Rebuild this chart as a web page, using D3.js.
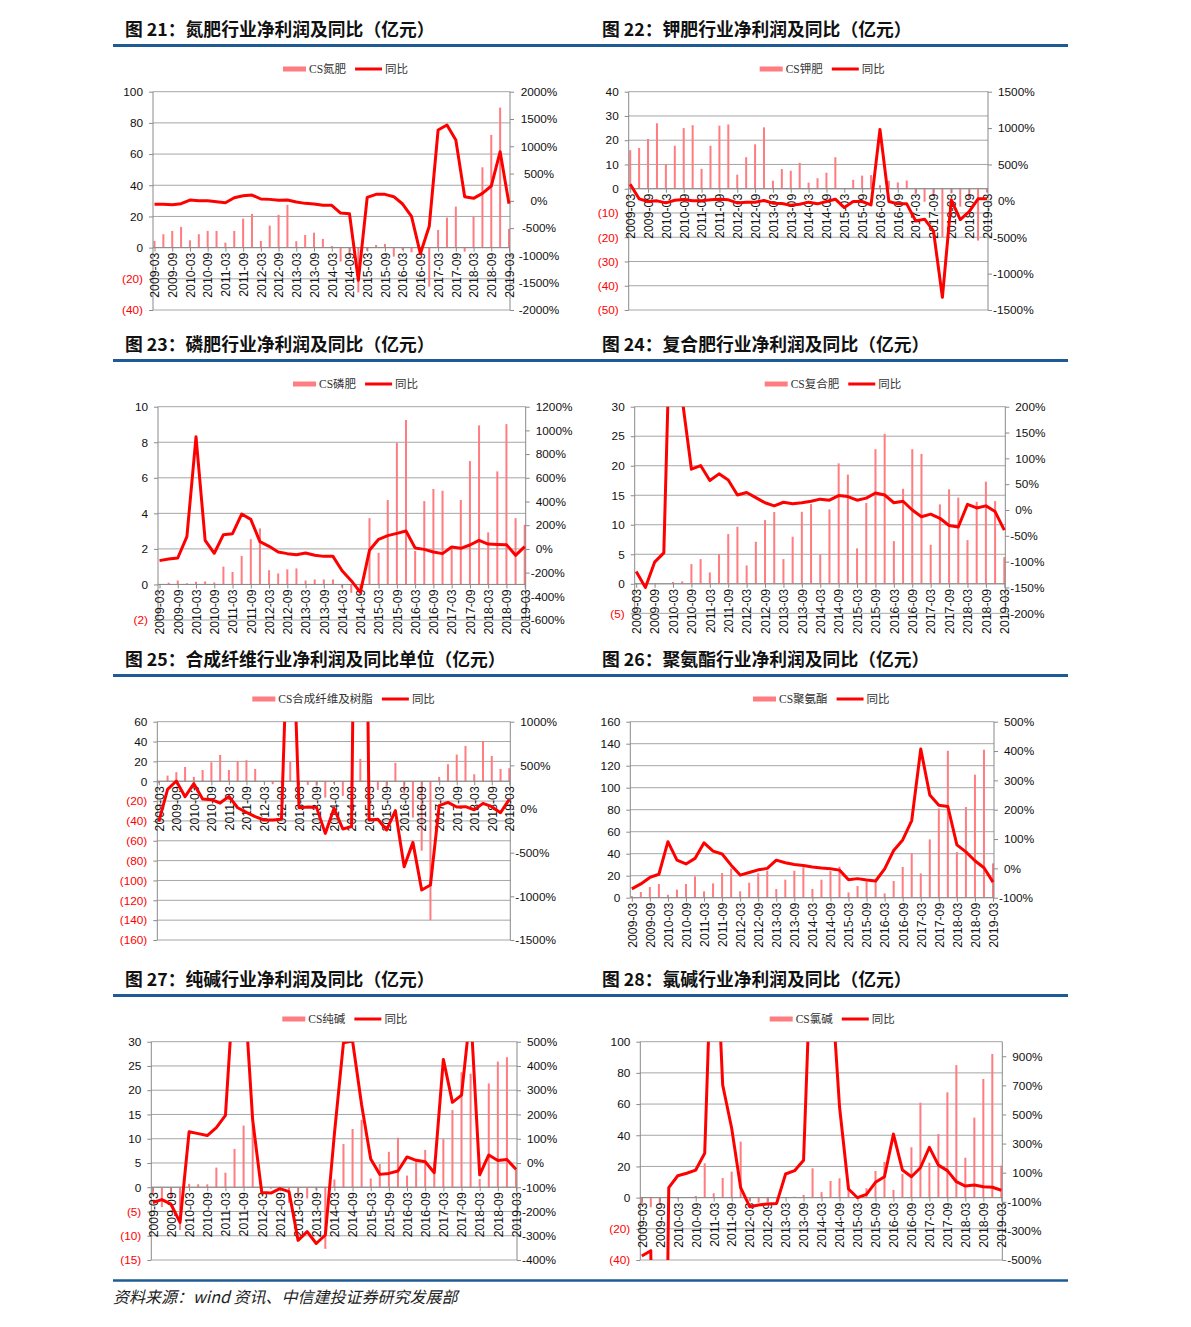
<!DOCTYPE html>
<html><head><meta charset="utf-8">
<script src="https://cdn.jsdelivr.net/npm/d3@7"></script>
<style>
body{margin:0;background:#fff}
svg{display:block}
.tick text{font-family:"Liberation Sans",Arial,sans-serif}
</style>
</head><body>
<svg id="c" width="1191" height="1327"></svg>
<script>
// ---------- categories ----------
const quarters = ["2009-03","2009-06","2009-09","2009-12","2010-03","2010-06","2010-09","2010-12",
"2011-03","2011-06","2011-09","2011-12","2012-03","2012-06","2012-09","2012-12",
"2013-03","2013-06","2013-09","2013-12","2014-03","2014-06","2014-09","2014-12",
"2015-03","2015-06","2015-09","2015-12","2016-03","2016-06","2016-09","2016-12",
"2017-03","2017-06","2017-09","2017-12","2018-03","2018-06","2018-09","2018-12","2019-03"];
const quarterTickLabels = quarters.filter((q,i)=>i%2===0);

// ---------- series values ----------
const nitrogenProfit = [4.3,8.6,10.7,13.3,4.7,8.6,10.7,10.7,3.2,10.7,18.6,21.6,4.3,14.1,21,27.4,4.1,8.1,9.6,5.6,1.1,-9,-5,-28.7,-2,1.7,2.4,-5.8,-1.5,-3,-4,-25,11.3,19.3,26.3,-2.6,20,51.5,72.3,89.8,12];
const nitrogenYoy = [-64,-64,-70,-52,15,3,3,-15,-34,58,95,107,34,27,9,15,-21,-46,-58,-82,-82,-223,-235,-1456,64,119,119,76,-58,-284,-968,-467,1298,1389,1114,76,46,137,272,901,-52];

const potashProfit = [15.9,16.8,20.5,27,10.2,17.7,25,26.2,8.2,17.7,26,26.5,5.8,13,18.3,25.3,3.3,8.1,7.4,10.7,2.5,4.3,6.6,13,0.3,3.7,5.4,5.6,1.5,3.3,2.6,3.4,-2.3,-5.4,-3,-20,-1.9,-7.4,-4,-21.4,-1.5];
const potashYoy = [229,28,-9,0,-28,9,18,0,0,14,23,14,-28,-18,-18,5,-32,-37,-60,-46,-18,-41,-9,23,-92,-9,-9,-55,982,-9,-41,-41,-275,-252,-413,-1326,14,-257,-147,28,28];

const phosphateProfit = [0.02,0.1,0.22,0.07,0.15,0.17,0.11,1.0,0.7,1.6,2.55,3.15,0.8,0.62,0.85,0.9,0.22,0.28,0.28,0.28,-0.17,-0.47,-0.3,3.73,1.78,4.75,7.97,9.25,1.88,4.69,5.37,5.27,2.0,4.75,6.94,8.95,2.93,6.36,9.02,3.73,3.36];
const phosphateYoy = [-99,-85,-77,103,946,72,-37,120,128,294,249,61,22,-26,-40,-49,-35,-54,-63,-63,-184,-268,-367,-12,81,112,131,151,8,-4,-26,-40,16,5,33,72,41,38,36,-54,19];

const compoundProfit = [0.05,0.05,0.05,0.05,0.3,0.4,3.33,4.18,1.92,5.03,8.42,9.66,3.1,7.12,10.8,12.15,4.18,7.97,12.2,13.5,4.97,12.6,20.4,18.5,6,13.7,22.8,25.4,7.23,16.1,22.8,22,6.6,13.45,16,14.6,7.4,13.9,17.3,14,4.5];
const compoundYoy = [-119,-150,-101,-83,575,215,79,86,57,70,58,29,34,24,14,8,15,12,14,17,21,19,28,26,19,23,33,29,14,17,0,-13,-8,-16,-30,-33,11,4,8,-3,-39];

const fiberProfit = [-2,5.7,9.1,14.4,4.4,11.4,19.1,26.5,11.4,20.2,21.2,12.4,-1,-3,-2,19.8,-1,-3.7,-4.4,-16.5,-2.3,-14.8,-5,22.5,5,-8.7,-5.4,18.5,-12,-36.6,-70,-140,4.4,17.1,26.9,35.6,7,40.6,25.5,12.4,13.1];
const fiberYoy = [-145,225,321,141,290,115,107,69,145,15,-38,-88,-126,-126,-118,3000,15,23,19,-279,8,-229,-202,9000,-126,-118,-240,-19,-660,-382,-927,-870,38,76,23,27,-8,65,27,-42,111];

const puProfit = [1.5,5.2,9.7,12.4,2.7,7.3,12.4,19.4,5.8,13,22.4,26.4,5.8,13.6,22.1,24.5,7.9,16.4,24.5,27.6,7.9,16.4,24.2,28.2,4.8,10.6,14.5,15,3.9,15.2,27.9,40.3,22.1,53,81.2,133.6,41.5,82.4,111.8,134.5,31.2];
const puYoy = [-70,-53,-31,-20,91,28,15,34,87,59,49,11,-23,-14,-5,0,28,19,13,10,5,1,-1,-6,-39,-35,-40,-43,-2,61,97,163,407,250,215,211,80,56,26,2,-47];

const sodaProfit = [-1.6,-4.1,-2.3,-8.8,0.7,0.6,0.6,4.05,3,7.9,12.7,13,-0.3,-0.3,-0.6,-3.2,-2.3,-2.3,-0.6,-12.7,1.6,8.9,12,13.9,1.8,4.8,7.3,10.2,2.4,5.3,7.7,5.3,9.9,15.9,23.7,23.4,1.7,21.4,25.9,26.8,3.9];
const sodaYoy = [-163,-151,-170,-245,129,121,113,146,196,780,770,177,-122,-124,-106,-118,-319,-283,-332,-297,120,496,503,239,16,-47,-43,-33,25,11,5,-40,427,250,280,630,-49,33,10,14,-26];

const chlorProfit = [-4,-6.2,-4.7,-3,-0.6,0,1.1,22,2.8,12.6,16.7,35.9,-2.1,-3.2,-3.2,-0.5,0,0.6,1.7,18.8,3.5,10.7,12.4,8,0.6,6,17.1,22.9,4.9,15.2,32.3,60.9,22.4,40.8,67.5,85,25.6,51.3,76.1,92.1,20.5];
const chlorYoy = [-472,-436,-5000,-3,79,96,118,233,2100,702,405,-3,-134,-122,-115,-111,91,114,185,1900,2500,1500,553,-12,-72,-49,34,72,365,118,72,134,274,152,114,38,8,15,4,0,-21];

// ---------- titles / legends ----------
const titles = ["图 21：氮肥行业净利润及同比（亿元）","图 22：钾肥行业净利润及同比（亿元）",
"图 23：磷肥行业净利润及同比（亿元）","图 24：复合肥行业净利润及同比（亿元）",
"图 25：合成纤维行业净利润及同比单位（亿元）","图 26：聚氨酯行业净利润及同比（亿元）",
"图 27：纯碱行业净利润及同比（亿元）","图 28：氯碱行业净利润及同比（亿元）"];
const seriesNames = ["CS氮肥","CS钾肥","CS磷肥","CS复合肥","CS合成纤维及树脂","CS聚氨酯","CS纯碱","CS氯碱"];
const yoyName = "同比";
const sourceText = "资料来源：wind 资讯、中信建投证券研究发展部";

// ---------- layout ----------
const panels = [
 {profit:nitrogenProfit, yoy:nitrogenYoy, x0:153, x1:510, y0:91.7, y1:310, l:[-40,100], ls:20, r:[-2000,2000], rs0:-2000, rs:500, lgX:283, rAlign:"middle"},
 {profit:potashProfit, yoy:potashYoy, x0:628.7, x1:988, y0:91.7, y1:310, l:[-50,40], ls:10, r:[-1500,1500], rs0:-1500, rs:500, lgX:759.7},
 {profit:phosphateProfit, yoy:phosphateYoy, x0:158, x1:525.7, y0:406.7, y1:620, l:[-2,10], ls:2, r:[-600,1200], rs0:-600, rs:200, lgX:293},
 {profit:compoundProfit, yoy:compoundYoy, x0:634.7, x1:1005.3, y0:406.7, y1:613.3, l:[-5,30], ls:5, r:[-200,200], rs0:-200, rs:50, lgX:764.7},
 {profit:fiberProfit, yoy:fiberYoy, x0:157.3, x1:510.3, y0:721.7, y1:940, l:[-160,60], ls:20, r:[-1500,1000], rs0:-1500, rs:500, lgX:252.3},
 {profit:puProfit, yoy:puYoy, x0:630.3, x1:994, y0:721.7, y1:897.7, l:[0,160], ls:20, r:[-100,500], rs0:-100, rs:100, lgX:753},
 {profit:sodaProfit, yoy:sodaYoy, x0:151.3, x1:517, y0:1041.7, y1:1260, l:[-15,30], ls:5, r:[-400,500], rs0:-400, rs:100, lgX:282.3},
 {profit:chlorProfit, yoy:chlorYoy, x0:640.3, x1:1002.3, y0:1041.7, y1:1260, l:[-40,100], ls:20, r:[-500,1000], rs0:-500, rs:200, lgX:769.7}
];
const rowTitleY = [35.5,350.5,665.5,985.5];
const rowRuleY = [45.5,360.5,675.5,995.5];
const rowLegendY = [69,384,699,1019];
const BLUE = "#1f5a94", BAR = "#ff7c80", LINE = "#ff0000", AX = "#8a8a8a", GRID = "#a6a6a6";

const svg = d3.select("#c");
const defs = svg.append("defs");

// header rules
rowRuleY.forEach(y=>{
  svg.append("line").attr("x1",113).attr("x2",1068).attr("y1",y).attr("y2",y)
    .attr("stroke",BLUE).attr("stroke-width",3);
});
svg.append("line").attr("x1",113).attr("x2",1068).attr("y1",1280.5).attr("y2",1280.5)
  .attr("stroke",BLUE).attr("stroke-width",2.5);
svg.append("text").attr("x",113).attr("y",1303).text(sourceText)
  .attr("font-family","'Noto Sans CJK SC',sans-serif").attr("font-size",16)
  .attr("font-style","italic").attr("fill","#222");

panels.forEach((p,k)=>{
  const row = Math.floor(k/2), col = k%2;
  const g = svg.append("g");
  // title
  g.append("text").attr("x", col? 602:125).attr("y", rowTitleY[row]).text(titles[k])
    .attr("font-family","'Noto Sans CJK SC',sans-serif").attr("font-weight","bold")
    .attr("font-size",17.8).attr("fill","#111");

  const x = d3.scalePoint().domain(quarters).range([p.x0+1.5, p.x1-1]);
  const yl = d3.scaleLinear().domain(p.l).range([p.y1, p.y0]);
  const yr = d3.scaleLinear().domain(p.r).range([p.y1, p.y0]);
  const lTicks = d3.range(p.l[0], p.l[1]+1e-9, p.ls);
  const rTicks = d3.range(p.rs0, p.r[1]+1e-9, p.rs);
  const y0px = yl(0);

  // gridlines
  g.append("g").selectAll("line").data(lTicks).join("line")
    .attr("x1",p.x0).attr("x2",p.x1)
    .attr("y1",d=>yl(d)).attr("y2",d=>yl(d))
    .attr("stroke",GRID).attr("stroke-width",1);

  // bars
  g.append("g").selectAll("rect").data(p.profit).join("rect")
    .attr("x",(d,i)=>x(quarters[i])-1)
    .attr("width",2)
    .attr("y",d=>Math.min(yl(d),y0px))
    .attr("height",d=>Math.abs(yl(d)-y0px))
    .attr("fill",BAR);

  // left axis
  const la = g.append("g").attr("transform",`translate(${p.x0},0)`)
    .call(d3.axisLeft(yl).tickValues(lTicks).tickSize(4).tickPadding(6)
      .tickFormat(d=> d<0 ? "("+Math.abs(d)+")" : String(d)));
  la.select(".domain").attr("stroke",AX).attr("d",`M0,${p.y0}V${p.y1}`);
  la.selectAll(".tick line").attr("stroke",AX);
  la.selectAll(".tick text").attr("font-size",11.8)
    .attr("fill",d=> d<0 ? "#ff0000" : "#111");

  // right axis
  const ra = g.append("g").attr("transform",`translate(${p.x1},0)`)
    .call(d3.axisRight(yr).tickValues(rTicks).tickSize(4).tickPadding(6)
      .tickFormat(d=> d+"%"));
  ra.select(".domain").attr("stroke",AX).attr("d",`M0,${p.y0}V${p.y1}`);
  ra.selectAll(".tick line").attr("stroke",AX);
  const rt = ra.selectAll(".tick text").attr("font-size",11.8).attr("fill","#111");
  if (p.rAlign==="middle") rt.attr("text-anchor","middle").attr("x",29);
  else rt.attr("x",d=> d<0 ? 5 : 10);

  // x axis at zero
  const xa = g.append("g").attr("transform",`translate(0,${y0px})`)
    .call(d3.axisBottom(x).tickValues(quarterTickLabels).tickSize(4).tickSizeOuter(0));
  xa.select(".domain").attr("stroke",AX).attr("d",`M${p.x0},0H${p.x1}`);
  xa.selectAll(".tick line").attr("stroke",AX);
  xa.selectAll(".tick text").attr("font-size",12.3).attr("fill","#111")
    .attr("transform","rotate(-90)").attr("text-anchor","end")
    .attr("x",-5).attr("y",0).attr("dy","0.35em");

  // line (clipped to plot area)
  const cid = "clip"+k;
  defs.append("clipPath").attr("id",cid).append("rect")
    .attr("x",p.x0-6).attr("y",p.y0).attr("width",p.x1-p.x0+12).attr("height",p.y1-p.y0);
  g.append("path").datum(p.yoy).attr("clip-path",`url(#${cid})`)
    .attr("d",d3.line().x((d,i)=>x(quarters[i])).y(d=>yr(d)))
    .attr("fill","none").attr("stroke",LINE).attr("stroke-width",3)
    .attr("stroke-linejoin","round");

  // legend
  const ly = rowLegendY[row];
  const lg = g.append("g").attr("font-family","'Liberation Serif','Noto Sans CJK SC',serif")
    .attr("font-size",11.5).attr("fill","#333");
  let cx = p.lgX;
  lg.append("rect").attr("x",cx).attr("y",ly-2.5).attr("width",23).attr("height",5).attr("fill",BAR);
  cx += 26;
  const t1 = lg.append("text").attr("x",cx).attr("y",ly+4).text(seriesNames[k]);
  cx += t1.node().getComputedTextLength() + 9;
  lg.append("line").attr("x1",cx).attr("x2",cx+27).attr("y1",ly).attr("y2",ly)
    .attr("stroke",LINE).attr("stroke-width",3);
  cx += 30;
  lg.append("text").attr("x",cx).attr("y",ly+4).text(yoyName);
});
</script>
</body></html>
